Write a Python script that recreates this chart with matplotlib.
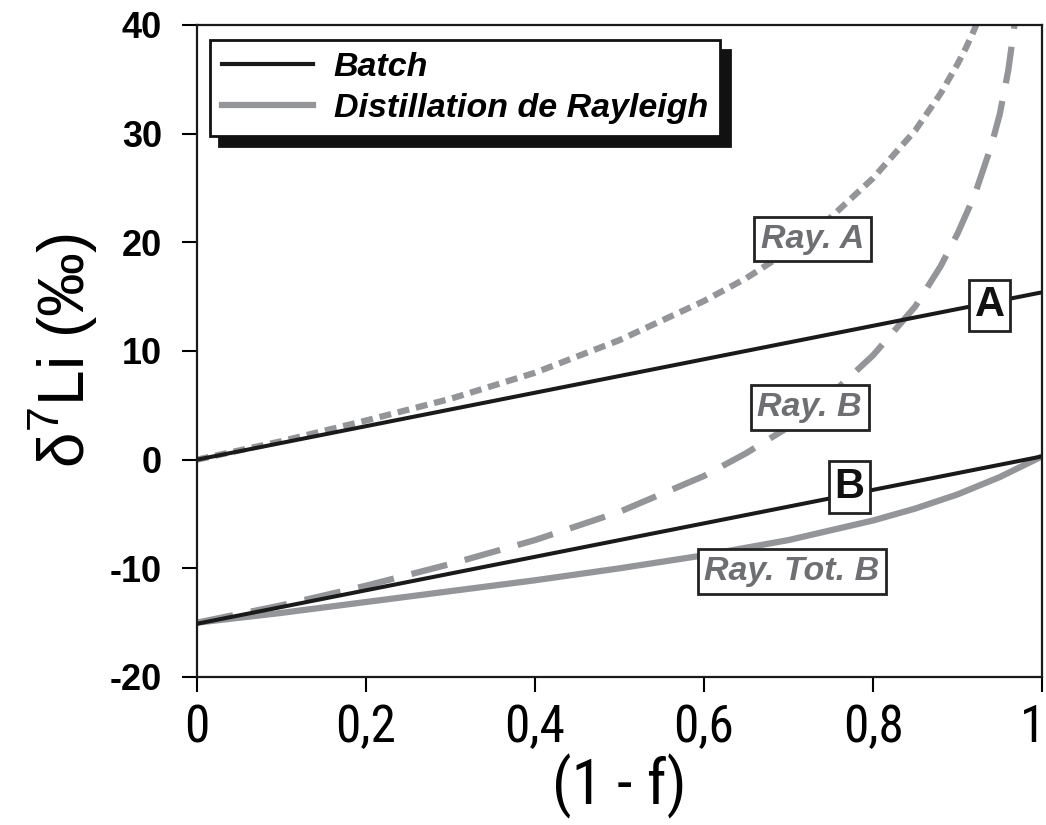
import matplotlib
matplotlib.use("Agg")
import matplotlib.pyplot as plt
from matplotlib import font_manager
from matplotlib.font_manager import FontProperties
from matplotlib.lines import Line2D
from matplotlib.transforms import ScaledTranslation

# --- data ------------------------------------------------------------------
x_batch = [0.0, 1.0]
batch_a = [0.0, 15.4]
batch_b = [-15.1, 0.3]

x_ray_a = [0.0, 0.1, 0.2, 0.3, 0.4, 0.5, 0.6, 0.65, 0.7, 0.75, 0.8, 0.85,
           0.88, 0.9, 0.91, 0.92, 0.93]
ray_a = [0.0, 1.7, 3.6, 5.6, 8.0, 11.0, 14.6, 16.7, 19.2, 22.3, 25.9, 30.3,
         33.7, 36.4, 37.9, 39.6, 41.5]

x_ray_b = [0.0, 0.1, 0.2, 0.3, 0.4, 0.5, 0.6, 0.65, 0.7, 0.75, 0.8, 0.85,
           0.88, 0.9, 0.92, 0.94, 0.95, 0.96, 0.965, 0.97]
ray_b = [-15.0, -13.4, -11.6, -9.6, -7.4, -4.8, -1.5, 0.6, 3.0, 6.0, 9.6,
         14.1, 17.8, 20.8, 24.3, 28.9, 31.8, 35.8, 38.6, 41.5]

x_tot_b = [0.0, 0.1, 0.2, 0.3, 0.4, 0.5, 0.6, 0.7, 0.8, 0.85, 0.9, 0.95, 1.0]
ray_tot_b = [-15.0, -14.1, -13.1, -12.1, -11.1, -10.0, -8.8, -7.4, -5.6,
             -4.5, -3.2, -1.6, 0.3]

x_ticks = [0, 0.2, 0.4, 0.6, 0.8, 1.0]
x_ticklabels = ["0", "0,2", "0,4", "0,6", "0,8", "1"]
y_ticks = [-20, -10, 0, 10, 20, 30, 40]

# label text, centre (x, y), colour
curve_labels = [
    ("Ray. A", 0.728, 20.3, "gray"),
    ("Ray. B", 0.725, 4.8, "gray"),
    ("Ray. Tot. B", 0.704, -10.3, "gray"),
    ("A", 0.938, 14.2, "black"),
    ("B", 0.772, -2.5, "black"),
]

GREY = "#939598"
GREY_TXT = "#6e6f72"

installed = {f.name for f in font_manager.fontManager.ttflist}
SANS = "Liberation Sans" if "Liberation Sans" in installed else "DejaVu Sans"


def _find_narrow():
    # any condensed sans face that is on the system, best first
    pref = ["Liberation Sans Narrow", "Roboto Condensed", "Open Sans Condensed",
            "DejaVu Sans Condensed", "Noto Sans Condensed", "DejaVu Sans"]
    found = []
    for f in font_manager.fontManager.ttflist:
        cond = ("Narrow" in f.name or "Condensed" in f.name
                or f.stretch in ("condensed", "semi-condensed", "extra-condensed"))
        if not cond or f.style != "normal":
            continue
        if f.weight not in (400, "normal", "regular", "Regular"):
            continue
        if "Mono" in f.name or "Serif" in f.name:
            continue
        rank = pref.index(f.name) if f.name in pref else len(pref)
        found.append((rank, f.fname))
    if found:
        found.sort()
        return FontProperties(fname=found[0][1])
    return None


narrow = _find_narrow()

plt.rcParams["font.family"] = SANS
plt.rcParams["mathtext.fontset"] = "custom"
plt.rcParams["mathtext.rm"] = SANS

fig = plt.figure(figsize=(10.46, 8.25), dpi=100)
ax = fig.add_axes([0.1883, 0.1794, 0.8079, 0.7903])

ax.plot(x_batch, batch_a, color="#1a1a1a", lw=2.9, solid_capstyle="butt", zorder=3)
ax.plot(x_batch, batch_b, color="#1a1a1a", lw=2.9, solid_capstyle="butt", zorder=3)
ax.plot(x_ray_a, ray_a, color=GREY, lw=4.5, ls=(0, (1.9, 1.1)),
        dash_capstyle="butt", zorder=2)
ax.plot(x_ray_b, ray_b, color=GREY, lw=4.5, ls=(0, (5.9, 2.9)),
        dash_capstyle="butt", zorder=2)
ax.plot(x_tot_b, ray_tot_b, color=GREY, lw=4.5, solid_capstyle="butt", zorder=2)

for txt, lx, ly, kind in curve_labels:
    if kind == "black":
        ax.text(lx, ly, txt, ha="center", va="center", fontsize=30,
                fontweight="bold", color="#111111", zorder=6,
                bbox=dict(boxstyle="square,pad=0.14", fc="white", ec="#222222", lw=2))
    else:
        ax.text(lx, ly, txt, ha="center", va="center", fontsize=24.5,
                fontweight="bold", fontstyle="italic", color=GREY_TXT, zorder=6,
                bbox=dict(boxstyle="square,pad=0.2", fc="white", ec="#222222", lw=2))

ax.set_xlim(0, 1)
ax.set_ylim(-20, 40)
ax.set_xticks(x_ticks)
ax.set_yticks(y_ticks)
ax.set_yticklabels([str(v) for v in y_ticks], fontweight="bold", fontsize=26)
if narrow is not None:
    xfp = narrow.copy()
    xfp.set_size(37)
    lfp = narrow.copy()
    lfp.set_size(45)
else:
    xfp = FontProperties(family=SANS, size=30)
    lfp = FontProperties(family=SANS, size=42)
ax.set_xticklabels(x_ticklabels, fontproperties=xfp)
ax.tick_params(axis="x", direction="out", length=11, width=1.5, pad=8)
ax.tick_params(axis="y", direction="out", length=11, width=1.5, pad=14)
for sp in ax.spines.values():
    sp.set_linewidth(1.6)
    sp.set_color("#1a1a1a")

# keep the "1" at the right edge inside the canvas
last = ax.get_xticklabels()[-1]
last.set_transform(last.get_transform()
                   + ScaledTranslation(-7 / 72, 0, fig.dpi_scale_trans))

ax.set_xlabel("(1 - f)", fontproperties=lfp, labelpad=0)
ax.set_ylabel(r"δ$^{7}$Li (‰)", fontsize=46, labelpad=8)

handles = [
    Line2D([], [], color="#1a1a1a", lw=3),
    Line2D([], [], color=GREY, lw=4.5),
]
leg = ax.legend(
    handles, ["Batch", "Distillation de Rayleigh"],
    loc="upper left", bbox_to_anchor=(0.015, 0.977), borderaxespad=0,
    fancybox=False, frameon=True, edgecolor="#111111", facecolor="white",
    framealpha=1, handlelength=2.7, handletextpad=0.6, labelspacing=0.3,
    borderpad=0.35, prop=dict(family=SANS, weight="bold", style="italic", size=24.5),
    shadow=dict(ox=7, oy=-7, color="#111111", alpha=1),
)
leg.get_frame().set_linewidth(2)
leg.set_zorder(7)

fig.savefig("out.png", dpi=100)
